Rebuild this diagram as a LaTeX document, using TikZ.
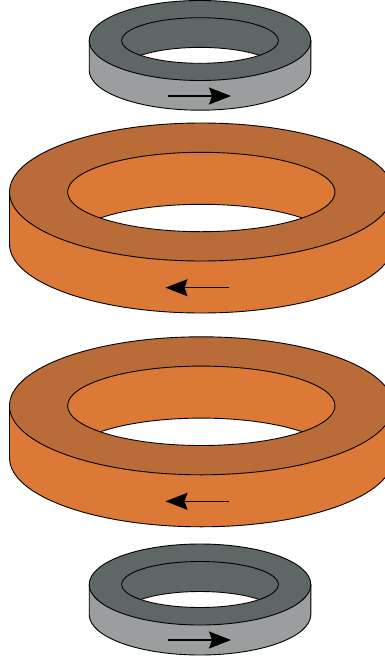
\documentclass[tikz,border=0pt]{standalone}
\usetikzlibrary{arrows.meta}
\definecolor{orangetop}{HTML}{BA6C38}
\definecolor{orangeside}{HTML}{DC7936}
\definecolor{graytop}{HTML}{5F6666}
\definecolor{grayside}{HTML}{9A9E9E}
\tikzset{
  ringline/.style={draw=black,line width=0.9pt},
  fluxarrow/.style={draw=black,line width=1.3pt,-{Stealth[length=22pt,width=17pt,inset=3pt]}}
}
% #1 cx, #2 cy, #3 outer rx, #4 outer ry, #5 inner rx, #6 inner ry, #7 height, #8 top colour, #9 side colour; inner wall uses colour "wall"
\newcommand{\ringdisc}[9]{%
  \path[ringline,fill=#9] (#1-#3,#2) -- (#1-#3,#2+#7) arc[start angle=180,end angle=360,x radius=#3,y radius=-#4] -- (#1+#3,#2) -- cycle;
  \path[ringline,fill=#8] (#1,#2) ellipse[x radius=#3,y radius=#4];
  \path[fill=wall] (#1,#2) ellipse[x radius=#5,y radius=#6];
  \begin{scope}
    \clip (#1,#2) ellipse[x radius=#5,y radius=#6];
    \path[ringline,fill=white] (#1,#2+#7) ellipse[x radius=#5,y radius=#6];
  \end{scope}
  \path[ringline] (#1,#2) ellipse[x radius=#5,y radius=#6];
}
\begin{document}
\begin{tikzpicture}[x=1pt,y=-1pt]
\useasboundingbox (0,0) rectangle (385,659);
\clip (0,0) rectangle (385,659);
\colorlet{wall}{graytop}
\ringdisc{200}{40.5}{110.8}{40}{78.3}{22.8}{29.7}{graytop}{grayside}
\ringdisc{200}{584.5}{110.8}{40.5}{78.3}{23}{30}{graytop}{grayside}
\colorlet{wall}{orangeside}
\ringdisc{201.3}{192}{191.8}{69}{133.7}{39.7}{52}{orangetop}{orangeside}
\ringdisc{201.3}{405.8}{191.8}{69}{133.7}{39.7}{52}{orangetop}{orangeside}
\coordinate (a1s) at (167.5,96);
\coordinate (a1e) at (231,96);
\coordinate (a2s) at (229,287.7);
\coordinate (a2e) at (165.5,287.7);
\coordinate (a3s) at (229,501.3);
\coordinate (a3e) at (165.5,501.3);
\coordinate (a4s) at (167.5,640);
\coordinate (a4e) at (231,640);
\draw[fluxarrow] (a1s) -- (a1e);
\draw[fluxarrow] (a2s) -- (a2e);
\draw[fluxarrow] (a3s) -- (a3e);
\draw[fluxarrow] (a4s) -- (a4e);
\end{tikzpicture}
\end{document}
